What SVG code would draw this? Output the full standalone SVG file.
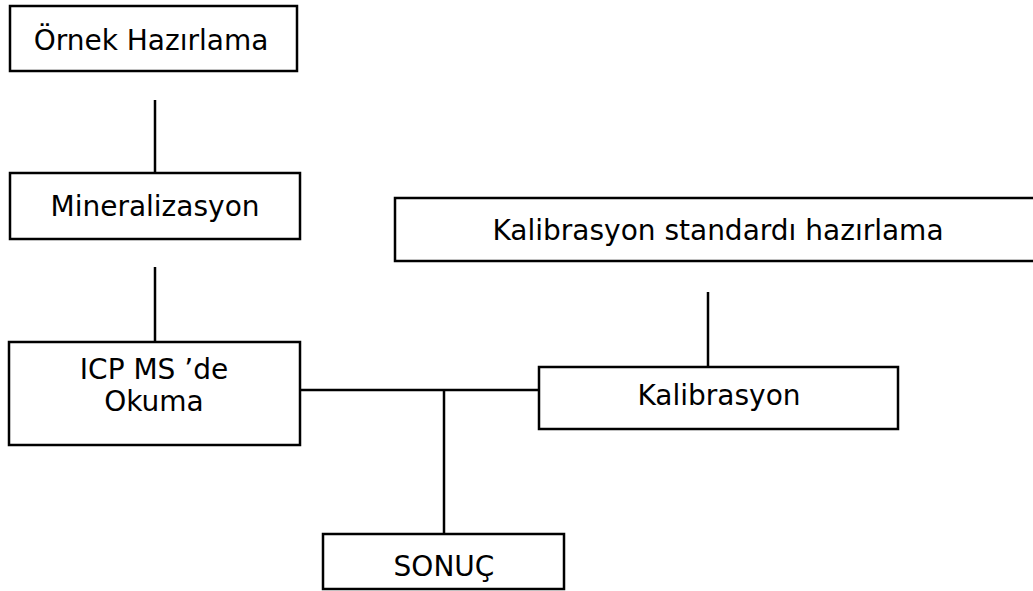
<svg xmlns="http://www.w3.org/2000/svg" width="1033" height="591" viewBox="0 0 1033 591">
<style>
.box{fill:#fff;stroke:#000;stroke-width:2.5}
.t{font-family:"DejaVu Sans",Verdana,sans-serif;font-size:28px;fill:#000;text-anchor:middle}
.c{stroke:#000;stroke-width:2.5;fill:none}
</style>
<rect width="1033" height="591" fill="#fff"/>
<g id="connectors">
<line class="c" x1="155" y1="100" x2="155" y2="173"/>
<line class="c" x1="155" y1="267" x2="155" y2="342"/>
<line class="c" x1="300" y1="390" x2="539" y2="390"/>
<line class="c" x1="444" y1="390" x2="444" y2="534"/>
<line class="c" x1="708" y1="292" x2="708" y2="367"/>
</g>
<g id="ornek">
<rect class="box" x="10" y="6" width="287" height="65"/>
<text class="t" x="151" y="50">Örnek Hazırlama</text>
</g>
<g id="mineralizasyon">
<rect class="box" x="10" y="173" width="290" height="66"/>
<text class="t" x="155" y="216">Mineralizasyon</text>
</g>
<g id="icpms">
<rect class="box" x="9" y="342" width="291" height="103"/>
<text class="t" x="154" y="379">ICP MS ’de</text>
<text class="t" x="154" y="411">Okuma</text>
</g>
<g id="kalstd">
<rect class="box" x="395" y="198" width="650" height="63"/>
<text class="t" x="718" y="240">Kalibrasyon standardı hazırlama</text>
</g>
<g id="kalibrasyon">
<rect class="box" x="539" y="367" width="359" height="62"/>
<text class="t" x="719" y="405">Kalibrasyon</text>
</g>
<g id="sonuc">
<rect class="box" x="323" y="534" width="241" height="55"/>
<text class="t" x="444" y="576">SONUÇ</text>
</g>
</svg>
